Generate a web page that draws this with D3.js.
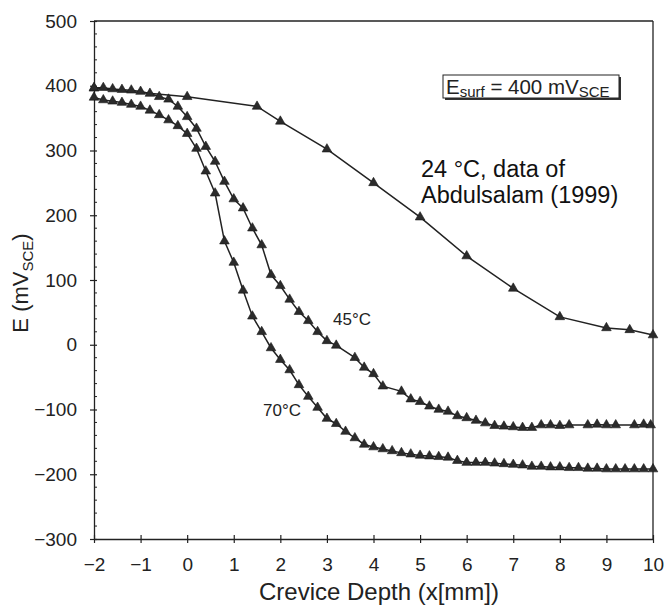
<!DOCTYPE html>
<html>
<head>
<meta charset="utf-8">
<script src="https://cdn.jsdelivr.net/npm/d3@7"></script>
<style>
  html, body { margin: 0; padding: 0; background: #ffffff; }
  svg { display: block; font-family: "Liberation Sans", Arial, Helvetica, sans-serif; }
</style>
</head>
<body>
<svg id="chart" width="668" height="605"></svg>
<script>
// Crevice potential profiles, E vs. crevice depth
const xTicks = [-2, -1, 0, 1, 2, 3, 4, 5, 6, 7, 8, 9, 10];
const yTicks = [-300, -200, -100, 0, 100, 200, 300, 400, 500];

// 24 °C (Abdulsalam, 1999)
const depth24 = [-2, 0, 1.5, 2, 3, 4, 5, 6, 7, 8, 9, 9.5, 10];
const pot24 = [396, 383, 368, 345, 302, 250, 197, 137, 87, 43, 26, 23, 15];

// 45 °C
const depth45 = [-2, -1.8, -1.6, -1.4, -1.2, -1, -0.8, -0.6, -0.4, -0.2,
  0, 0.2, 0.4, 0.6, 0.8, 1, 1.2, 1.4, 1.6, 1.8,
  2, 2.2, 2.4, 2.6, 2.8, 3, 3.2, 3.6, 3.8, 4, 4.2,
  4.6, 4.8, 5, 5.2, 5.4, 5.6, 5.8, 6, 6.2, 6.4, 6.6, 6.8, 7, 7.2, 7.4, 7.6, 7.8, 8, 8.2,
  8.6, 8.8, 9, 9.2, 9.6, 9.8, 9.95];
const pot45 = [397, 397, 395, 394, 393, 391, 388, 383, 379, 368,
  352, 334, 306, 283, 252, 225, 211, 180, 154, 108,
  91, 70, 51, 37, 20, 6, -1, -20, -35, -45, -64,
  -72, -84, -88, -95, -100, -103, -110, -113, -117, -121, -125, -126, -127, -128, -128, -124, -124, -125, -124,
  -124, -123, -124, -124, -124, -123, -124];

// 70 °C
const depth70 = [-2, -1.8, -1.6, -1.4, -1.2, -1, -0.8, -0.6, -0.4, -0.2,
  0, 0.2, 0.4, 0.6, 0.8, 1, 1.2, 1.4, 1.6, 1.8,
  2, 2.2, 2.4, 2.6, 2.8, 3, 3.2, 3.4, 3.6, 3.8,
  4, 4.2, 4.4, 4.6, 4.8, 5, 5.2, 5.4, 5.6, 5.8,
  6, 6.2, 6.4, 6.6, 6.8, 7, 7.2, 7.4, 7.6, 7.8,
  8, 8.2, 8.4, 8.6, 8.8, 9, 9.2, 9.4, 9.6, 9.8, 10];
const pot70 = [382, 378, 376, 374, 371, 368, 362, 355, 347, 338,
  326, 303, 268, 234, 160, 127, 84, 44, 20, -5,
  -23, -39, -62, -80, -97, -114, -122, -134, -144, -154,
  -158, -161, -164, -167, -169, -171, -172, -173, -174, -179,
  -182, -182, -182, -183, -184, -185, -186, -188, -188, -189,
  -189, -190, -190, -191, -191, -192, -192, -192, -192, -192, -192];

const seriesList = [
  { depth: depth24, pot: pot24 },
  { depth: depth45, pot: pot45 },
  { depth: depth70, pot: pot70 }
];

const ink = "#222";
const svg = d3.select("#chart");

const x = d3.scaleLinear().domain([-2, 10]).range([94, 653]);
const y = d3.scaleLinear().domain([-300, 500]).range([539, 21]);

// frame: top and right edges
svg.append("line")
  .attr("x1", x(-2)).attr("x2", x(10)).attr("y1", y(500)).attr("y2", y(500))
  .attr("stroke", ink).attr("stroke-width", 1.3);
svg.append("line")
  .attr("x1", x(10)).attr("x2", x(10)).attr("y1", y(500)).attr("y2", y(-300))
  .attr("stroke", ink).attr("stroke-width", 1.3);

// x axis
const gx = svg.append("g")
  .attr("transform", `translate(0,${y(-300)})`)
  .call(d3.axisBottom(x).tickValues(xTicks).tickSize(4).tickSizeOuter(0).tickPadding(15)
    .tickFormat(d3.format("")));
gx.selectAll(".tick line").attr("y1", -4).attr("y2", 4);

// y axis
const gy = svg.append("g")
  .attr("transform", `translate(${x(-2)},0)`)
  .call(d3.axisLeft(y).tickValues(yTicks).tickSize(4).tickSizeOuter(0).tickPadding(13)
    .tickFormat(d3.format("")));
gy.selectAll(".tick line").attr("x1", 3).attr("x2", -4);

// minor y ticks every 20
gy.selectAll(".minor")
  .data(y.ticks(40).filter(v => v % 100 !== 0))
  .join("line")
  .attr("class", "minor")
  .attr("x1", 0).attr("x2", 3)
  .attr("y1", d => y(d)).attr("y2", d => y(d))
  .attr("stroke", ink).attr("stroke-width", 1);

[gx, gy].forEach(g => {
  g.select(".domain").attr("stroke", ink).attr("stroke-width", 1.3);
  g.selectAll(".tick line").attr("stroke", ink).attr("stroke-width", 1.2);
  g.selectAll(".tick text")
    .attr("fill", ink)
    .style("font-size", "19px")
    .style("font-family", "\"Liberation Sans\", Arial, sans-serif");
});

// curves with triangle markers
const line = d3.line().x(d => x(d[0])).y(d => y(d[1]));
const tri = d3.symbol().type(d3.symbolTriangle).size(40);

seriesList.forEach(s => {
  const pts = s.depth.map((d, i) => [d, s.pot[i]]);
  svg.append("path")
    .datum(pts)
    .attr("d", line)
    .attr("fill", "none")
    .attr("stroke", ink)
    .attr("stroke-width", 1.5);
  svg.append("g")
    .selectAll("path")
    .data(pts)
    .join("path")
    .attr("d", tri)
    .attr("transform", d => `translate(${x(d[0])},${y(d[1])})`)
    .attr("fill", "#2b2b2b")
    .attr("stroke", "#1a1a1a")
    .attr("stroke-width", 0.6);
});

// curve labels
svg.append("text").attr("x", 333).attr("y", 325)
  .attr("fill", ink).style("font-size", "17px").text("45°C");
svg.append("text").attr("x", 263).attr("y", 416)
  .attr("fill", ink).style("font-size", "17px").text("70°C");

// annotation
const note = svg.append("text").attr("fill", "#111").style("font-size", "23.5px");
note.append("tspan").attr("x", 421).attr("y", 177).text("24 °C, data of");
note.append("tspan").attr("x", 421).attr("y", 203).text("Abdulsalam (1999)");

// surface potential box with drop shadow
const bx = 443, by = 75, bw = 176, bh = 23;
svg.append("rect").attr("x", bx + 2).attr("y", by + 2).attr("width", bw).attr("height", bh)
  .attr("fill", "#333");
svg.append("rect").attr("x", bx).attr("y", by).attr("width", bw).attr("height", bh)
  .attr("fill", "#fff").attr("stroke", ink).attr("stroke-width", 1);
const lg = svg.append("text").attr("x", bx + 3).attr("y", by + 19)
  .attr("fill", ink).style("font-size", "20.5px");
lg.append("tspan").text("E");
lg.append("tspan").attr("dy", 3).style("font-size", "15px").text("surf");
lg.append("tspan").attr("dy", -3).text(" = 400 mV");
lg.append("tspan").attr("dy", 3).style("font-size", "15px").text("SCE");

// axis titles
svg.append("text")
  .attr("x", 379).attr("y", 600)
  .attr("text-anchor", "middle")
  .attr("fill", ink).style("font-size", "24px")
  .text("Crevice Depth (x[mm])");

const yl = svg.append("text")
  .attr("transform", "translate(28,283) rotate(-90)")
  .attr("text-anchor", "middle")
  .attr("fill", ink).style("font-size", "22px");
yl.append("tspan").text("E (mV");
yl.append("tspan").attr("dy", 5).style("font-size", "15px").text("SCE");
yl.append("tspan").attr("dy", -5).text(")");
</script>
</body>
</html>
